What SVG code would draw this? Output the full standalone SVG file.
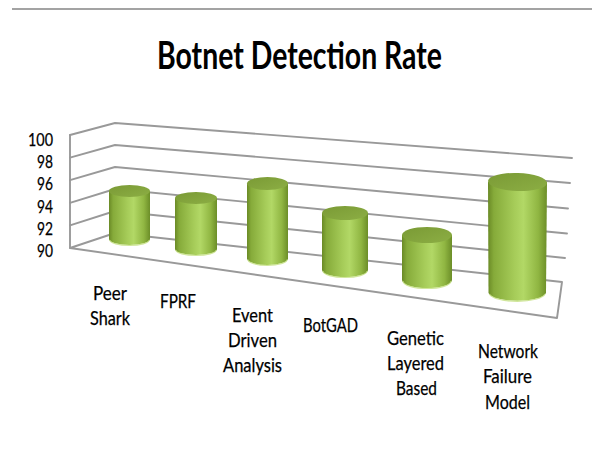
<svg xmlns="http://www.w3.org/2000/svg" width="592" height="466" viewBox="0 0 592 466">
  <defs>
    <linearGradient id="body" x1="0" y1="0" x2="1" y2="0">
      <stop offset="0" stop-color="#6a8a26"/>
      <stop offset="0.1" stop-color="#86ab3a"/>
      <stop offset="0.45" stop-color="#a6cc59"/>
      <stop offset="0.6" stop-color="#b2d866"/>
      <stop offset="0.85" stop-color="#90b642"/>
      <stop offset="1" stop-color="#6c8e28"/>
    </linearGradient>
    <linearGradient id="cap" x1="0" y1="0" x2="1" y2="1">
      <stop offset="0" stop-color="#7a9a35"/>
      <stop offset="1" stop-color="#8cae44"/>
    </linearGradient>
  </defs>
  <style>
    .grid { fill: none; stroke: #999999; stroke-width: 1.9; stroke-linecap: round; stroke-linejoin: round; }
    .body { fill: url(#body); }
    .cap { fill: url(#cap); }
    .rim { fill: none; stroke: #c4e082; stroke-width: 1.2; opacity: 0.8; }
    .title { font-family: Lato, "Liberation Sans", sans-serif; font-weight: bold; font-size: 38px; fill: #000; text-anchor: middle; }
    .tick { font-family: Lato, "Liberation Sans", sans-serif; font-size: 18px; fill: #000; stroke: #000; stroke-width: 0.25; text-anchor: end; }
    .cat { font-family: Lato, "Liberation Sans", sans-serif; font-size: 19.5px; fill: #000; stroke: #000; stroke-width: 0.25; text-anchor: middle; }
  </style>

  <rect width="592" height="466" fill="#ffffff"/>

  <!-- top rule -->
  <line x1="12" y1="9" x2="592" y2="9" stroke="#a3a3a3" stroke-width="2"/>

  <text class="title" x="299.5" y="69" textLength="285" lengthAdjust="spacingAndGlyphs">Botnet Detection Rate</text>

  <!-- walls, gridlines and floor -->
  <g id="walls">
    <!-- left wall front edge -->
    <line class="grid" x1="70" y1="135" x2="70" y2="248"/>
    <!-- gridlines: left wall segment + back wall segment -->
    <polyline class="grid" points="70,135 115,123 572,158"/>
    <polyline class="grid" points="70,157.6 115,145 570,183"/>
    <polyline class="grid" points="70,180.2 115,167 568,208.5"/>
    <polyline class="grid" points="70,202.8 115,189 567,233.5"/>
    <polyline class="grid" points="70,225.4 115,211 565,258"/>
    <!-- floor -->
    <polygon class="grid" points="70,248 115,233 562,282 557,318"/>
  </g>

  <!-- axis values -->
  <g id="axis">
    <text class="tick" x="53" y="146" textLength="25" lengthAdjust="spacingAndGlyphs">100</text>
    <text class="tick" x="53" y="168" textLength="16" lengthAdjust="spacingAndGlyphs">98</text>
    <text class="tick" x="53" y="190" textLength="16" lengthAdjust="spacingAndGlyphs">96</text>
    <text class="tick" x="53" y="213" textLength="16" lengthAdjust="spacingAndGlyphs">94</text>
    <text class="tick" x="53" y="235" textLength="16" lengthAdjust="spacingAndGlyphs">92</text>
    <text class="tick" x="53" y="257" textLength="16" lengthAdjust="spacingAndGlyphs">90</text>
  </g>

  <!-- bars -->
  <g id="bar-peer-shark">
    <path class="body" d="M109,191 L109,239 A20.5,6 0 0 0 150,239 L150,191 Z"/>
    <path class="rim" d="M110,240 A19.5,5.5 0 0 0 149,240"/>
    <ellipse class="cap" cx="129.5" cy="191" rx="20.5" ry="6"/>
  </g>
  <g id="bar-fprf">
    <path class="body" d="M175,198 L175,249 A21,6 0 0 0 217,249 L217,198 Z"/>
    <path class="rim" d="M176,250 A20,5.5 0 0 0 216,250"/>
    <ellipse class="cap" cx="196" cy="198" rx="21" ry="6"/>
  </g>
  <g id="bar-event-driven">
    <path class="body" d="M247,183.5 L247,258.5 A20.5,6.5 0 0 0 288,258.5 L288,183.5 Z"/>
    <path class="rim" d="M248,259.5 A19.5,6 0 0 0 287,259.5"/>
    <ellipse class="cap" cx="267.5" cy="183.5" rx="20.5" ry="6.5"/>
  </g>
  <g id="bar-botgad">
    <path class="body" d="M322,213 L322,270 A23,7 0 0 0 368,270 L368,213 Z"/>
    <path class="rim" d="M323,271 A22,6.5 0 0 0 367,271"/>
    <ellipse class="cap" cx="345" cy="213" rx="23" ry="7"/>
  </g>
  <g id="bar-genetic">
    <path class="body" d="M402,235 L402,280 A25,8 0 0 0 452,280 L452,235 Z"/>
    <path class="rim" d="M403,281 A24,7.5 0 0 0 451,281"/>
    <ellipse class="cap" cx="427" cy="235" rx="25" ry="8"/>
  </g>
  <g id="bar-network-failure">
    <path class="body" d="M488,182 L488.5,293 A29,9 0 0 0 546,293 L547,182 Z"/>
    <path class="rim" d="M489.5,294 A28,8.5 0 0 0 545,294"/>
    <ellipse class="cap" cx="517.5" cy="182" rx="29.5" ry="9" transform="rotate(2 517.5 182)"/>
  </g>

  <!-- category labels -->
  <g id="labels">
    <text class="cat" x="110" y="300" textLength="34" lengthAdjust="spacingAndGlyphs">Peer</text>
    <text class="cat" x="110" y="325" textLength="40" lengthAdjust="spacingAndGlyphs">Shark</text>
    <text class="cat" x="178" y="308" textLength="36" lengthAdjust="spacingAndGlyphs">FPRF</text>
    <text class="cat" x="252.5" y="322" textLength="41" lengthAdjust="spacingAndGlyphs">Event</text>
    <text class="cat" x="252.5" y="347" textLength="49" lengthAdjust="spacingAndGlyphs">Driven</text>
    <text class="cat" x="252.5" y="372" textLength="59" lengthAdjust="spacingAndGlyphs">Analysis</text>
    <text class="cat" x="330.5" y="332" textLength="55" lengthAdjust="spacingAndGlyphs">BotGAD</text>
    <text class="cat" x="415.5" y="345" textLength="57" lengthAdjust="spacingAndGlyphs">Genetic</text>
    <text class="cat" x="415.5" y="370" textLength="57" lengthAdjust="spacingAndGlyphs">Layered</text>
    <text class="cat" x="416.5" y="395" textLength="41" lengthAdjust="spacingAndGlyphs">Based</text>
    <text class="cat" x="508" y="358" textLength="60" lengthAdjust="spacingAndGlyphs">Network</text>
    <text class="cat" x="507.5" y="383" textLength="49" lengthAdjust="spacingAndGlyphs">Failure</text>
    <text class="cat" x="507.5" y="409" textLength="45" lengthAdjust="spacingAndGlyphs">Model</text>
  </g>
</svg>
